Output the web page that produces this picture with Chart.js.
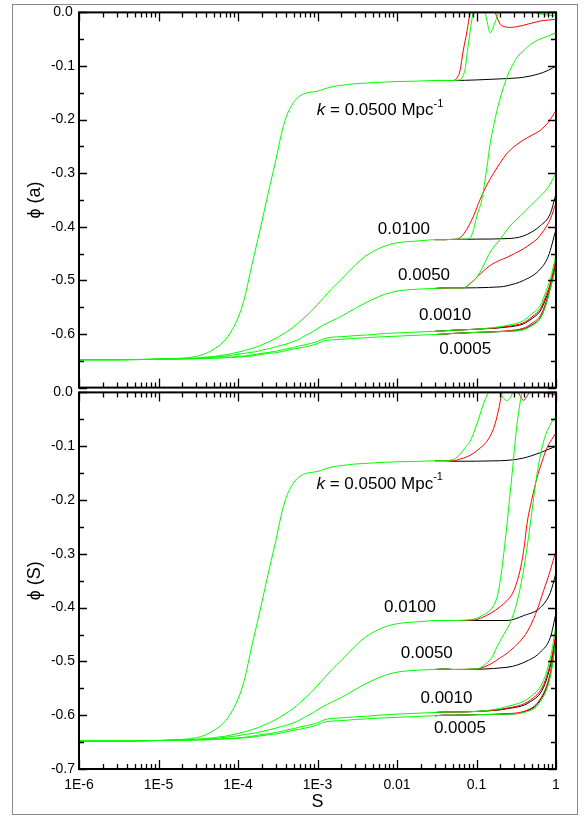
<!DOCTYPE html>
<html>
<head>
<meta charset="utf-8">
<script src="https://cdn.jsdelivr.net/npm/chart.js@4.4.1/dist/chart.umd.min.js"></script>
<style>
  html, body { margin: 0; padding: 0; background: #fff; }
  body { width: 585px; height: 817px; position: relative; overflow: hidden; }
  #frame { position: absolute; left: 12px; top: 4px; width: 566px; height: 811px; box-sizing: border-box; border: 1px solid #8a8a8a; }
  canvas { position: absolute; left: 0; }
  #chart-a { top: 0; }
  #chart-s { top: 380px; }
</style>
</head>
<body>
<div id="frame"></div>
<canvas id="chart-a" width="585" height="400"></canvas>
<canvas id="chart-s" width="585" height="437"></canvas>
<script>
/* ---- data: shared early part (all colours coincide for S < 0.05) ---- */
const S_EARLY = [1e-6, 3e-6, 1e-5, 2e-5, 3e-5, 4e-5, 5e-5, 6e-5, 7e-5, 8e-5, 1e-4, 1.2e-4, 1.5e-4, 1.8e-4, 2e-4,
  2.5e-4, 3e-4, 3.5e-4, 4e-4, 5e-4, 6e-4, 7e-4, 8e-4, 1e-3, 1.2e-3, 1.5e-3, 2e-3, 3e-3, 4e-3, 5e-3, 7e-3, 0.01, 0.02, 0.03, 0.04];
const PHI_K0500 = [-0.648, -0.648, -0.647, -0.645, -0.642, -0.636, -0.628, -0.620, -0.610, -0.598, -0.570, -0.535, -0.470, -0.420, -0.390,
  -0.325, -0.275, -0.228, -0.197, -0.168, -0.156, -0.151, -0.149, -0.147, -0.143, -0.139, -0.136, -0.133, -0.132, -0.131, -0.130, -0.129, -0.128, -0.127, -0.127];
const PHI_K0100 = [-0.648, -0.648, -0.647, -0.646, -0.645, -0.643, -0.642, -0.640, -0.639, -0.637, -0.634, -0.631, -0.627, -0.623, -0.620,
  -0.614, -0.608, -0.602, -0.597, -0.587, -0.577, -0.568, -0.560, -0.545, -0.532, -0.516, -0.498, -0.471, -0.455, -0.446, -0.436, -0.430, -0.426, -0.424, -0.424];
const PHI_K0050 = [-0.648, -0.648, -0.647, -0.646, -0.645, -0.644, -0.643, -0.642, -0.641, -0.640, -0.638, -0.636, -0.634, -0.632, -0.630,
  -0.627, -0.624, -0.621, -0.619, -0.614, -0.609, -0.603, -0.599, -0.590, -0.583, -0.576, -0.567, -0.552, -0.542, -0.535, -0.526, -0.520, -0.516, -0.515, -0.514];
const PHI_K0010 = [-0.648, -0.648, -0.647, -0.646, -0.646, -0.645, -0.645, -0.644, -0.643, -0.643, -0.642, -0.641, -0.639, -0.637, -0.636,
  -0.634, -0.632, -0.630, -0.628, -0.625, -0.622, -0.620, -0.618, -0.614, -0.609, -0.606, -0.605, -0.603, -0.602, -0.601, -0.599, -0.598, -0.596, -0.595, -0.594];
const PHI_K0005 = [-0.648, -0.648, -0.647, -0.647, -0.646, -0.646, -0.645, -0.645, -0.644, -0.644, -0.643, -0.642, -0.641, -0.639, -0.638,
  -0.636, -0.635, -0.633, -0.631, -0.628, -0.626, -0.624, -0.622, -0.618, -0.613, -0.611, -0.610, -0.608, -0.607, -0.606, -0.605, -0.604, -0.602, -0.601, -0.600];

/* ---- phi(a) panel: tails after the curves split ---- */
const A_K0500_BLACK_S = [0.05, 0.1, 0.2, 0.39, 0.6, 0.8, 1];
const A_K0500_BLACK = [-0.127, -0.126, -0.124, -0.121, -0.115, -0.108, -0.100];
const A_K0500_RED_S = [0.05, 0.054, 0.058, 0.062, 0.068, 0.076, 0.083, 0.095, 0.12, 0.15, 0.172, 0.199, 0.23, 0.265, 0.39, 0.634, 1];
const A_K0500_RED = [-0.127, -0.126, -0.120, -0.109, -0.072, -0.035, 0.0, 0.04, 0.06, 0.03, 0.0, -0.022, -0.027, -0.028, -0.024, -0.016, -0.013];
const A_K0500_GREEN_S = [0.05, 0.062, 0.067, 0.072, 0.079, 0.088, 0.095, 0.11, 0.125, 0.135, 0.149, 0.165, 0.185, 0.2, 0.3, 0.45, 0.55, 0.65, 0.8, 1];
const A_K0500_GREEN = [-0.127, -0.126, -0.120, -0.105, -0.059, -0.011, 0.02, 0.035, 0.01, -0.015, -0.038, -0.025, -0.005, 0.005, 0.02, 0.01, 0.0, -0.003, -0.005, -0.007];

const A_K0100_BLACK_S = [0.05, 0.1, 0.242, 0.391, 0.634, 0.85, 1];
const A_K0100_BLACK = [-0.4235, -0.423, -0.422, -0.417, -0.398, -0.375, -0.338];
const A_K0100_RED_S = [0.05, 0.057, 0.07, 0.0917, 0.111, 0.135, 0.164, 0.2, 0.242, 0.3, 0.391, 0.5, 0.634, 0.8, 1];
const A_K0100_RED = [-0.4235, -0.423, -0.412, -0.380, -0.349, -0.322, -0.300, -0.280, -0.263, -0.250, -0.238, -0.229, -0.220, -0.205, -0.183];
const A_K0100_GREEN_S = [0.05, 0.0686, 0.083, 0.092, 0.101, 0.117, 0.1225, 0.135, 0.149, 0.165, 0.181, 0.21, 0.242, 0.28, 0.323, 0.4, 0.475, 0.6, 0.8, 1];
const A_K0100_GREEN = [-0.4235, -0.423, -0.421, -0.405, -0.380, -0.349, -0.331, -0.290, -0.244, -0.210, -0.183, -0.148, -0.121, -0.100, -0.084, -0.070, -0.060, -0.051, -0.044, -0.038];

const A_K0050_BLACK_S = [0.05, 0.2, 0.242, 0.391, 0.634, 0.8, 1];
const A_K0050_BLACK = [-0.514, -0.512, -0.510, -0.500, -0.479, -0.455, -0.405];
const A_K0050_RED_S = [0.05, 0.0686, 0.08, 0.101, 0.149, 0.2, 0.242, 0.3, 0.391, 0.5, 0.576, 0.7, 0.847, 1];
const A_K0050_RED = [-0.514, -0.514, -0.508, -0.494, -0.472, -0.462, -0.457, -0.450, -0.441, -0.430, -0.423, -0.407, -0.386, -0.355];
const A_K0050_GREEN_S = [0.05, 0.0686, 0.08, 0.101, 0.12, 0.149, 0.199, 0.266, 0.391, 0.5, 0.634, 0.8, 1];
const A_K0050_GREEN = [-0.514, -0.514, -0.508, -0.494, -0.475, -0.447, -0.423, -0.398, -0.374, -0.358, -0.343, -0.326, -0.300];

const A_LOW_S = [0.05, 0.1, 0.242, 0.391, 0.5, 0.634, 0.75, 0.85, 1];
const A_K0010_GREEN = [-0.593, -0.591, -0.584, -0.575, -0.562, -0.547, -0.520, -0.497, -0.452];
const A_K0010_RED = [-0.593, -0.591, -0.586, -0.579, -0.568, -0.553, -0.528, -0.505, -0.460];
const A_K0010_BLACK = [-0.593, -0.591, -0.587, -0.581, -0.571, -0.557, -0.533, -0.510, -0.465];
const A_K0005_GREEN = [-0.599, -0.597, -0.595, -0.592, -0.584, -0.571, -0.545, -0.515, -0.475];
const A_K0005_RED = [-0.599, -0.597, -0.594, -0.589, -0.580, -0.566, -0.540, -0.510, -0.468];
const A_K0005_BLACK = [-0.599, -0.597, -0.595, -0.591, -0.583, -0.570, -0.544, -0.514, -0.472];

/* ---- phi(S) panel: tails ---- */
const S_K0500_BLACK_S = [0.05, 0.2, 0.39, 0.634, 0.8, 1];
const S_K0500_BLACK = [-0.128, -0.127, -0.122, -0.112, -0.106, -0.100];
const S_K0500_RED_S = [0.05, 0.062, 0.075, 0.0917, 0.11, 0.135, 0.164, 0.188, 0.21, 0.25, 0.3, 0.35, 0.39, 0.44, 0.5, 0.7, 1];
const S_K0500_RED = [-0.127, -0.124, -0.120, -0.113, -0.104, -0.091, -0.067, -0.035, 0.0, 0.02, 0.01, -0.005, -0.015, -0.005, 0.005, 0.0, -0.005];
const S_K0500_GREEN_S = [0.05, 0.055, 0.062, 0.072, 0.083, 0.101, 0.122, 0.14, 0.16, 0.19, 0.217, 0.24, 0.266, 0.3, 0.4, 0.6, 1];
const S_K0500_GREEN = [-0.125, -0.122, -0.115, -0.103, -0.091, -0.059, -0.022, 0.0, 0.02, 0.005, -0.010, -0.015, -0.010, 0.005, 0.01, 0.005, 0.002];

const S_K0100_BLACK_S = [0.05, 0.242, 0.39, 0.634, 0.85, 1];
const S_K0100_BLACK = [-0.424, -0.424, -0.415, -0.400, -0.372, -0.335];
const S_K0100_RED_S = [0.05, 0.092, 0.12, 0.149, 0.2, 0.242, 0.285, 0.323, 0.36, 0.4, 0.431, 0.5, 0.576, 0.67, 0.77, 0.88, 1];
const S_K0100_RED = [-0.424, -0.423, -0.418, -0.411, -0.398, -0.387, -0.373, -0.352, -0.325, -0.285, -0.245, -0.197, -0.159, -0.128, -0.103, -0.088, -0.075];
const S_K0100_GREEN_S = [0.05, 0.08, 0.1, 0.12, 0.149, 0.181, 0.199, 0.22, 0.242, 0.28, 0.323, 0.373, 0.42, 0.5, 0.7, 1];
const S_K0100_GREEN = [-0.424, -0.423, -0.420, -0.414, -0.405, -0.381, -0.350, -0.300, -0.245, -0.152, -0.060, 0.0, 0.03, 0.04, 0.03, 0.02];

const S_K0050_BLACK_S = [0.05, 0.242, 0.45, 0.634, 0.85, 1];
const S_K0050_BLACK = [-0.515, -0.511, -0.498, -0.483, -0.455, -0.410];
const S_K0050_RED_S = [0.05, 0.1, 0.15, 0.2, 0.242, 0.3, 0.391, 0.48, 0.576, 0.7, 0.77, 0.847, 1];
const S_K0050_RED = [-0.515, -0.514, -0.505, -0.493, -0.485, -0.473, -0.455, -0.433, -0.405, -0.368, -0.350, -0.331, -0.294];
const S_K0050_GREEN_S = [0.05, 0.1, 0.13, 0.16, 0.181, 0.22, 0.266, 0.323, 0.391, 0.43, 0.475, 0.52, 0.576, 0.698, 0.847, 1];
const S_K0050_GREEN = [-0.515, -0.514, -0.505, -0.490, -0.473, -0.450, -0.428, -0.390, -0.330, -0.290, -0.245, -0.200, -0.152, -0.091, -0.060, -0.044];

const S_K0010_S = [0.05, 0.1, 0.242, 0.475, 0.698, 0.89, 1];
const S_K0010_GREEN = [-0.594, -0.593, -0.584, -0.566, -0.535, -0.479, -0.430];
const S_K0010_RED = [-0.594, -0.593, -0.587, -0.572, -0.543, -0.490, -0.445];
const S_K0010_BLACK = [-0.594, -0.593, -0.588, -0.575, -0.548, -0.495, -0.452];
const S_K0005_S = [0.05, 0.1, 0.242, 0.391, 0.634, 0.847, 1];
const S_K0005_GREEN = [-0.600, -0.599, -0.598, -0.595, -0.575, -0.529, -0.462];
const S_K0005_RED = [-0.600, -0.599, -0.597, -0.593, -0.570, -0.522, -0.458];
const S_K0005_BLACK = [-0.600, -0.599, -0.598, -0.594, -0.572, -0.525, -0.460];

/* ---- axes ---- */
const X_DECADES = [1e-6, 1e-5, 1e-4, 1e-3, 0.01, 0.1, 1];
const X_TICK_LABELS = ["1E-6", "1E-5", "1E-4", "1E-3", "0.01", "0.1", "1"];
const Y_MIN = -0.7, Y_MAX = 0, Y_STEP = 0.1;

/* curve labels, anchored in data coordinates (S, phi) */
const LABELS_A = [
  { text: "0.0100", s: 0.0122, phi: -0.404 },
  { text: "0.0050", s: 0.0219, phi: -0.491 },
  { text: "0.0010", s: 0.0403, phi: -0.565 },
  { text: "0.0005", s: 0.0721, phi: -0.629 }
];
const LABELS_S = [
  { text: "0.0100", s: 0.0146, phi: -0.399 },
  { text: "0.0050", s: 0.0237, phi: -0.485 },
  { text: "0.0010", s: 0.0419, phi: -0.569 },
  { text: "0.0005", s: 0.0618, phi: -0.624 }
];
const K_LABEL_A = { s: 9.8e-4, phi: -0.183 };
const K_LABEL_S = { s: 9.7e-4, phi: -0.171 };

const FONT = "'Liberation Sans', Arial, sans-serif";
const C = { green: "#00ff00", red: "#ff0000", black: "#000000" };

Chart.defaults.font.family = FONT;
Chart.defaults.font.size = 14;
Chart.defaults.color = "#000";

/* red and black runs are hidden under the green one until they split,
   so they start near the split to keep the shared part pure green */
function curve(early, tailS, tailPhi, fromS) {
  const pts = [];
  S_EARLY.forEach(function (s, i) { if (s >= (fromS || 0)) pts.push({ x: s, y: early[i] }); });
  tailS.forEach(function (s, i) { pts.push({ x: s, y: tailPhi[i] }); });
  return pts;
}

function ds(points, color) {
  return {
    data: points, borderColor: color, borderWidth: 1, pointRadius: 0, showLine: true,
    fill: false, cubicInterpolationMode: "monotone",
    order: color === C.green ? 1 : color === C.red ? 2 : 3
  };
}

function trio(early, bS, b, rS, r, gS, g) {
  return [
    ds(curve(early, bS, b, 0.03), C.black),
    ds(curve(early, rS, r, 0.03), C.red),
    ds(curve(early, gS, g), C.green)
  ];
}

/* inward ticks on all four sides + the heavy frame */
const axisBox = {
  id: "axisBox",
  afterDatasetsDraw(chart) {
    const { ctx, chartArea: a, scales: { x, y } } = chart;
    ctx.save();
    ctx.strokeStyle = "#000";
    ctx.lineWidth = 1.3;
    ctx.beginPath();
    for (let i = 0; i <= Math.round((Y_MAX - Y_MIN) / 0.05); i++) {
      const py = Math.round(y.getPixelForValue(Y_MAX - i * 0.05)) + 0.5;
      const len = i % 2 === 0 ? 8 : 5;
      ctx.moveTo(a.left, py); ctx.lineTo(a.left + len, py);
      ctx.moveTo(a.right, py); ctx.lineTo(a.right - len, py);
    }
    X_DECADES.forEach(function (d, j) {
      const px = Math.round(x.getPixelForValue(d)) + 0.5;
      ctx.moveTo(px, a.top); ctx.lineTo(px, a.top + 9);
      ctx.moveTo(px, a.bottom); ctx.lineTo(px, a.bottom - 9);
      if (j === X_DECADES.length - 1) return;
      for (let m = 2; m <= 9; m++) {
        const pm = Math.round(x.getPixelForValue(m * d)) + 0.5;
        ctx.moveTo(pm, a.top); ctx.lineTo(pm, a.top + 5);
        ctx.moveTo(pm, a.bottom); ctx.lineTo(pm, a.bottom - 5);
      }
    });
    ctx.stroke();
    ctx.lineWidth = 2;
    ctx.strokeRect(a.left, a.top, a.right - a.left, a.bottom - a.top);
    ctx.restore();
  }
};

/* curve labels */
const curveLabels = {
  id: "curveLabels",
  afterDraw(chart, args, opts) {
    const { ctx, scales: { x, y } } = chart;
    ctx.save();
    ctx.fillStyle = "#000";
    ctx.textBaseline = "middle";
    ctx.font = "17px " + FONT;
    ctx.textAlign = "center";
    opts.items.forEach(function (l) {
      ctx.fillText(l.text, x.getPixelForValue(l.s), y.getPixelForValue(l.phi));
    });
    // k = 0.0500 Mpc^-1
    ctx.textAlign = "left";
    let px = x.getPixelForValue(opts.k.s);
    const py = y.getPixelForValue(opts.k.phi);
    ctx.font = "italic 17px " + FONT;
    ctx.fillText("k", px, py);
    px += ctx.measureText("k").width;
    ctx.font = "17px " + FONT;
    ctx.fillText(" = 0.0500 Mpc", px, py);
    px += ctx.measureText(" = 0.0500 Mpc").width;
    ctx.font = "11px " + FONT;
    ctx.fillText("-1", px, py - 7);
    ctx.restore();
  }
};

function makeChart(id, datasets, yTitle, showX, labels, kLabel) {
  return new Chart(document.getElementById(id), {
    type: "scatter",
    data: { datasets: datasets },
    options: {
      responsive: false,
      animation: false,
      events: [],
      layout: { padding: { left: 0, right: 29, top: 11, bottom: showX ? 4 : 10 } },
      plugins: {
        legend: { display: false },
        tooltip: { enabled: false },
        curveLabels: { items: labels, k: kLabel }
      },
      scales: {
        x: {
          type: "logarithmic", min: 1e-6, max: 1,
          grid: { display: false, drawTicks: false },
          border: { display: false },
          afterBuildTicks: function (s) { s.ticks = X_DECADES.map(function (v) { return { value: v }; }); },
          afterFit: function (s) { s.height = showX ? 44 : 0; },
          ticks: {
            display: showX, autoSkip: false, maxRotation: 0, padding: 8,
            font: { size: 14 },
            callback: function (v, i) { return X_TICK_LABELS[i]; }
          },
          title: { display: showX, text: "S", font: { size: 18 }, padding: { top: 0, bottom: 0 } }
        },
        y: {
          min: Y_MIN, max: Y_MAX,
          grid: { display: false, drawTicks: false },
          border: { display: false },
          afterFit: function (s) { s.width = 79; },
          ticks: {
            stepSize: Y_STEP, crossAlign: "center", padding: 4,
            font: { size: 14 },
            callback: function (v) {
              if (!showX && Math.abs(v - Y_MIN) < 1e-6) return "";
              return Number(v).toFixed(1);
            }
          },
          title: { display: true, text: yTitle, font: { size: 18 }, padding: { top: 24, bottom: 0 } }
        }
      }
    },
    plugins: [axisBox, curveLabels]
  });
}

const dataA = [].concat(
  trio(PHI_K0500, A_K0500_BLACK_S, A_K0500_BLACK, A_K0500_RED_S, A_K0500_RED, A_K0500_GREEN_S, A_K0500_GREEN),
  trio(PHI_K0100, A_K0100_BLACK_S, A_K0100_BLACK, A_K0100_RED_S, A_K0100_RED, A_K0100_GREEN_S, A_K0100_GREEN),
  trio(PHI_K0050, A_K0050_BLACK_S, A_K0050_BLACK, A_K0050_RED_S, A_K0050_RED, A_K0050_GREEN_S, A_K0050_GREEN),
  trio(PHI_K0010, A_LOW_S, A_K0010_BLACK, A_LOW_S, A_K0010_RED, A_LOW_S, A_K0010_GREEN),
  trio(PHI_K0005, A_LOW_S, A_K0005_BLACK, A_LOW_S, A_K0005_RED, A_LOW_S, A_K0005_GREEN)
);

const dataS = [].concat(
  trio(PHI_K0500, S_K0500_BLACK_S, S_K0500_BLACK, S_K0500_RED_S, S_K0500_RED, S_K0500_GREEN_S, S_K0500_GREEN),
  trio(PHI_K0100, S_K0100_BLACK_S, S_K0100_BLACK, S_K0100_RED_S, S_K0100_RED, S_K0100_GREEN_S, S_K0100_GREEN),
  trio(PHI_K0050, S_K0050_BLACK_S, S_K0050_BLACK, S_K0050_RED_S, S_K0050_RED, S_K0050_GREEN_S, S_K0050_GREEN),
  trio(PHI_K0010, S_K0010_S, S_K0010_BLACK, S_K0010_S, S_K0010_RED, S_K0010_S, S_K0010_GREEN),
  trio(PHI_K0005, S_K0005_S, S_K0005_BLACK, S_K0005_S, S_K0005_RED, S_K0005_S, S_K0005_GREEN)
);

makeChart("chart-a", dataA, "\u03D5 (a)", false, LABELS_A, K_LABEL_A);
makeChart("chart-s", dataS, "\u03D5 (S)", true, LABELS_S, K_LABEL_S);
</script>
</body>
</html>
